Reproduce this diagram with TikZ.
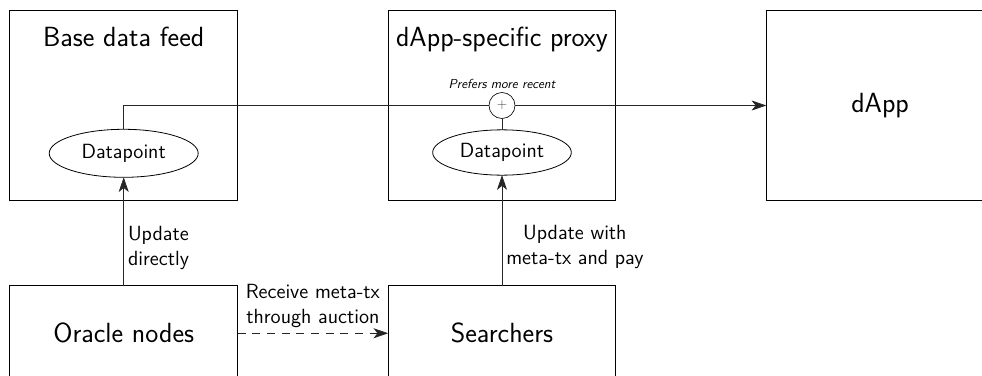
\documentclass[tikz,border=0pt]{standalone}
\usetikzlibrary{arrows.meta,shapes.geometric}
\begin{document}
\begin{tikzpicture}[x=0.75pt,y=-0.75pt,font=\sffamily,
  bigbox/.style={draw,line width=0.7pt,inner sep=0pt,outer sep=0pt,minimum width=6cm},
  bigtxt/.style={font=\sffamily\fontsize{20.8}{25}\selectfont},
  dpoint/.style={draw,ellipse,line width=0.6pt,inner sep=0pt,outer sep=0pt,font=\sffamily\fontsize{15.4}{18}\selectfont},
  conn/.style={line width=0.5pt,draw=black!85},
  tip/.style={-{Stealth[length=11pt,width=7.5pt,inset=3pt]}},
  lbl/.style={font=\sffamily\fontsize{15.4}{19}\selectfont,inner sep=3pt}]
\useasboundingbox (0,0) rectangle (982,375);
\clip (0,0) rectangle (982,375);
% boxes
\node[bigbox,minimum height=5cm] (base) at (123.7,105.5) {};
\node[bigbox,minimum height=5cm] (proxy) at (502,105.5) {};
\node[bigbox,minimum height=5cm,bigtxt] (dapp) at (880.1,105.5) {dApp};
\node[bigbox,minimum height=2.5cm,bigtxt] (oracle) at (123.7,333.25) {Oracle nodes};
\node[bigbox,minimum height=2.5cm,bigtxt] (search) at (502,333.25) {Searchers};
% titles
\node[bigtxt,anchor=base,inner sep=0pt] (basetitle) at (123.7,46.7) {Base data feed};
\node[bigtxt,anchor=base,inner sep=0pt] (proxytitle) at (502,46.7) {dApp-specific proxy};
% datapoints
\node[dpoint,minimum width=111.75pt,minimum height=36pt] (dp1) at (123.7,153.3) {Datapoint};
\node[dpoint,minimum width=104pt,minimum height=34pt] (dp2) at (502,152.5) {Datapoint};
% combiner
\node[draw,circle,line width=0.5pt,minimum size=19.5pt,inner sep=0pt,outer sep=0pt,
      font=\sffamily\fontsize{10}{12}\selectfont,text=black!70] (plus) at (502,105.5) {+};
\node[font=\sffamily\itshape\fontsize{9.8}{12}\selectfont,inner sep=0pt] (preflbl) at (502,84) {Prefers more recent};
% connectors
\draw[conn] (dp1.north) |- (plus.west);
\draw[conn,tip] (plus.east) -- (dapp.west);
\draw[conn] (plus.south) -- (dp2.north);
\draw[conn,tip] (oracle.north) -- node[lbl,pos=0.35,anchor=west,align=left] {Update\\directly} (dp1.south);
\draw[conn,tip] (search.north) -- node[lbl,pos=0.35,anchor=west,align=center] {Update with\\meta-tx and pay} (dp2.south);
\draw[conn,tip,dash pattern=on 6pt off 5pt] (oracle.east) -- node[lbl,midway,above,align=center,inner sep=4pt] {Receive meta-tx\\through auction} (search.west);
\end{tikzpicture}
\end{document}
